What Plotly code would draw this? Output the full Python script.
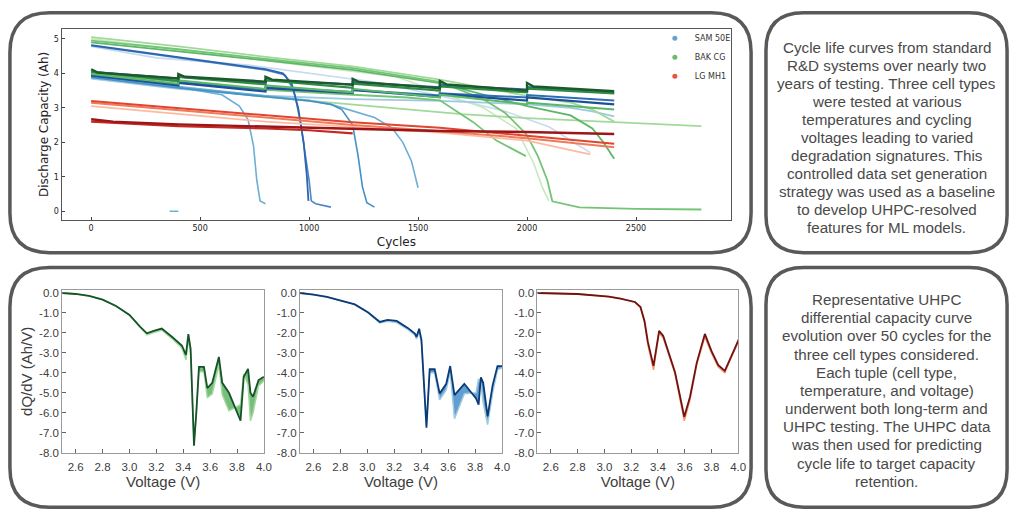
import plotly.graph_objects as go

# ---------------- data: cycle-life curves (cycle, discharge capacity Ah) ----------------
# SAM 50E
sam1_cyc = [0, 200, 400, 600, 800, 880, 920, 950, 975, 990, 997]
sam1_cap = [4.82, 4.65, 4.47, 4.30, 4.12, 4.00, 3.70, 3.00, 2.00, 1.00, 0.30]
sam2_cyc = [0, 400, 800, 890, 930, 960, 985, 1000, 1010, 1030, 1100]
sam2_cap = [4.80, 4.45, 4.10, 3.95, 3.50, 2.60, 1.60, 0.90, 0.30, 0.22, 0.12]
sam3_cyc = [0, 200, 400, 600, 680, 720, 745, 760, 775, 800]
sam3_cap = [3.90, 3.75, 3.60, 3.38, 3.05, 2.65, 1.90, 0.90, 0.30, 0.22]
sam4_cyc = [0, 400, 800, 1000, 1100, 1150, 1200, 1225, 1245, 1265, 1300]
sam4_cap = [3.88, 3.58, 3.32, 3.20, 3.10, 2.95, 2.50, 1.60, 0.70, 0.25, 0.12]
sam5_cyc = [0, 400, 800, 1000, 1100, 1200, 1300, 1380, 1430, 1470, 1500]
sam5_cap = [3.92, 3.62, 3.35, 3.22, 3.10, 2.92, 2.72, 2.42, 2.00, 1.45, 0.68]
sam6_cyc = [0, 400, 400, 800, 800, 1200, 1200, 1600, 1600, 2000, 2000, 2400]
sam6_cap = [3.95, 3.65, 3.72, 3.47, 3.57, 3.43, 3.52, 3.31, 3.40, 3.21, 3.30, 3.10]
sam7_cyc = [0, 400, 400, 800, 800, 1200, 1200, 1600, 1600, 2000, 2000, 2400]
sam7_cap = [3.92, 3.68, 3.74, 3.53, 3.60, 3.46, 3.52, 3.36, 3.42, 3.30, 3.37, 3.21]
sam8_cyc = [0, 400, 400, 800, 800, 1200, 1200, 1600, 1600, 2000, 2000, 2400]
sam8_cap = [4.05, 3.85, 3.90, 3.72, 3.80, 3.68, 3.75, 3.60, 3.66, 3.53, 3.60, 3.43]
sam9_cyc = [0, 400, 800, 1200, 1600, 2000, 2200, 2300, 2400]
sam9_cap = [3.85, 3.55, 3.35, 3.25, 3.20, 3.10, 3.00, 2.90, 2.75]
sam10_cyc = [0, 300, 720, 1000, 1300, 1600, 1900, 2100, 2290]
sam10_cap = [4.78, 4.45, 4.24, 4.00, 3.75, 3.35, 2.90, 2.45, 1.70]
sam11_cyc = [360, 400]
sam11_cap = [0.0, 0.0]

# BAK CG
bak1_cyc = [0, 400, 800, 1200, 1600, 1800, 1900, 1995, 2050, 2093, 2116, 2240, 2500, 2800]
bak1_cap = [4.95, 4.70, 4.42, 4.15, 3.75, 3.25, 2.85, 2.25, 1.60, 0.90, 0.29, 0.11, 0.07, 0.05]
bak2_cyc = [0, 400, 800, 1200, 1600, 2000, 2200, 2300, 2350, 2400]
bak2_cap = [4.90, 4.65, 4.38, 4.10, 3.72, 3.05, 2.78, 2.40, 2.00, 1.52]
bak3_cyc = [0, 400, 800, 1200, 1600, 2000, 2200, 2300, 2400]
bak3_cap = [5.05, 4.78, 4.48, 4.20, 3.82, 3.35, 3.15, 2.95, 2.60]
bak4_cyc = [0, 400, 800, 1200, 1450, 1600, 1750, 1860, 1995]
bak4_cap = [4.00, 3.75, 3.52, 3.38, 3.30, 3.22, 2.60, 2.05, 1.60]
bak5_cyc = [0, 400, 800, 1100, 1400, 1700, 2000, 2400, 2800]
bak5_cap = [3.92, 3.60, 3.32, 3.15, 2.97, 2.82, 2.70, 2.58, 2.47]
bak6_cyc = [0, 800, 1400, 1800, 1950, 2030, 2070, 2100]
bak6_cap = [5.00, 4.38, 3.90, 3.00, 2.40, 1.40, 0.70, 0.30]
bak7_cyc = [0, 30, 400, 400, 430, 800, 800, 830, 1200, 1200, 1230, 1600, 1600, 1630, 2000, 2000, 2030, 2400]
bak7_cap = [4.12, 4.02, 3.85, 3.98, 3.90, 3.76, 3.90, 3.82, 3.67, 3.84, 3.75, 3.57, 3.78, 3.68, 3.50, 3.72, 3.62, 3.48]
bak8_cyc = [0, 400, 400, 800, 800, 1200, 1200, 1600, 1600, 2000, 2000, 2400]
bak8_cap = [4.05, 3.78, 3.90, 3.68, 3.80, 3.58, 3.70, 3.50, 3.62, 3.45, 3.56, 3.42]
bak9_cyc = [0, 400, 400, 800, 800, 1200, 1200, 1600, 1600, 2000, 2000, 2400]
bak9_cap = [3.98, 3.70, 3.80, 3.55, 3.65, 3.45, 3.55, 3.30, 3.38, 3.10, 3.15, 2.95]

# LG MH1
lg1_cyc = [0, 100, 400, 800, 1200, 1600, 2000, 2400]
lg1_cap = [2.67, 2.60, 2.52, 2.45, 2.38, 2.33, 2.30, 2.24]
lg2_cyc = [0, 400, 800, 1000, 1200]
lg2_cap = [2.60, 2.47, 2.40, 2.35, 2.26]
lg3_cyc = [0, 400, 800, 1200, 1600, 2000, 2400]
lg3_cap = [3.20, 3.00, 2.80, 2.58, 2.42, 2.20, 1.96]
lg4_cyc = [0, 400, 800, 1200, 1600, 2000, 2400]
lg4_cap = [3.15, 2.93, 2.72, 2.50, 2.32, 2.12, 1.86]
lg5_cyc = [0, 400, 800, 1200, 1600, 2000, 2290]
lg5_cap = [3.05, 2.83, 2.60, 2.45, 2.28, 2.05, 1.65]

cell_names = ["SAM 50E", "BAK CG", "LG MH1"]
cell_colors = ["#6a9fd0", "#6cb86c", "#e8553a"]

x_ticks_top = [0, 500, 1000, 1500, 2000, 2500]
y_ticks_top = [0, 1, 2, 3, 4, 5]

# ---------------- data: dQ/dV curves (V, Ah/V), first (light) and last (dark) cycle ----------------
bak_v = [2.50, 2.60, 2.70, 2.80, 2.90, 3.00, 3.08, 3.13, 3.18, 3.24, 3.32, 3.39, 3.42, 3.438, 3.455,
         3.48, 3.497, 3.517, 3.554, 3.579, 3.616, 3.628, 3.665, 3.69, 3.74, 3.826, 3.85, 3.882, 3.90,
         3.919, 3.96, 4.00]
bak_dark = [0.0, -0.05, -0.15, -0.33, -0.65, -1.10, -1.70, -2.02, -1.90, -1.78, -2.22, -2.63, -3.10, -2.06,
            -2.80, -7.65, -6.00, -3.70, -3.70, -4.77, -4.50, -4.20, -3.20, -4.50, -5.00, -6.40, -4.20, -3.80,
            -5.00, -5.20, -4.36, -4.20]
bak_light = [0.0, -0.05, -0.15, -0.33, -0.65, -1.10, -1.70, -2.10, -1.98, -1.85, -2.30, -2.75, -3.35, -2.30,
             -3.00, -7.40, -6.10, -3.95, -3.95, -5.25, -5.05, -4.70, -3.60, -5.10, -5.90, -5.60, -4.05, -4.60,
             -6.40, -6.00, -4.65, -4.40]

sam_v = [2.50, 2.60, 2.70, 2.80, 2.907, 3.007, 3.093, 3.15, 3.218, 3.30, 3.353, 3.365, 3.385, 3.402, 3.439,
         3.463, 3.50, 3.537, 3.586, 3.615, 3.647, 3.72, 3.807, 3.826, 3.843, 3.86, 3.893, 3.93, 3.966, 4.00]
sam_dark = [0.0, -0.08, -0.20, -0.37, -0.57, -0.98, -1.45, -1.35, -1.40, -1.75, -2.03, -2.20, -1.79, -2.36,
            -6.75, -3.82, -3.82, -5.04, -4.55, -3.66, -5.12, -4.55, -5.28, -5.60, -4.23, -4.50, -6.18, -4.63,
            -3.66, -3.66]
sam_light = [0.0, -0.08, -0.20, -0.37, -0.57, -1.00, -1.50, -1.42, -1.48, -1.82, -2.10, -2.30, -1.95, -2.50,
             -6.50, -4.00, -4.00, -5.35, -4.85, -3.95, -6.30, -5.05, -5.00, -4.30, -4.50, -5.50, -6.60, -5.00,
             -3.85, -3.75]

lg_v = [2.50, 2.80, 3.032, 3.12, 3.229, 3.27, 3.30, 3.325, 3.367, 3.385, 3.409, 3.44, 3.47, 3.528, 3.56,
        3.597, 3.64, 3.69, 3.751, 3.80, 3.85, 3.90, 3.95, 4.006]
lg_dark = [0.0, -0.05, -0.18, -0.28, -0.45, -0.70, -1.40, -2.45, -3.65, -2.90, -1.90, -2.15, -2.80, -3.97,
           -5.00, -6.20, -5.20, -3.50, -2.05, -2.90, -3.60, -3.90, -3.15, -2.30]
lg_light = [0.0, -0.05, -0.18, -0.28, -0.47, -0.75, -1.50, -2.60, -3.85, -3.05, -2.00, -2.25, -2.90, -4.05,
            -5.15, -6.40, -5.35, -3.60, -2.20, -3.00, -3.70, -4.00, -3.20, -2.40]

v_ticks = [2.6, 2.8, 3.0, 3.2, 3.4, 3.6, 3.8, 4.0]
v_ticktext = ["2.6", "2.8", "3.0", "3.2", "3.4", "3.6", "3.8", "4.0"]
dq_ticks = [0, -1, -2, -3, -4, -5, -6, -7, -8]
dq_ticktext = ["0.0", "-1.0", "-2.0", "-3.0", "-4.0", "-5.0", "-6.0", "-7.0", "-8.0"]

text_top = [
    "Cycle life curves from standard",
    "R&D systems over nearly two",
    "years of testing. Three cell types",
    "were tested at various",
    "temperatures and cycling",
    "voltages leading to varied",
    "degradation signatures. This",
    "controlled data set generation",
    "strategy was used as a baseline",
    "to develop UHPC-resolved",
    "features for ML models.",
]
text_bottom = [
    "Representative UHPC",
    "differential capacity curve",
    "evolution over 50 cycles for the",
    "three cell types considered.",
    "Each tuple (cell type,",
    "temperature, and voltage)",
    "underwent both long-term and",
    "UHPC testing. The UHPC data",
    "was then used for predicting",
    "cycle life to target capacity",
    "retention.",
]

# ---------------- figure ----------------
W, H = 1024, 525


def px(x):
    return x / W


def py(y):
    return 1 - y / H


fig = go.Figure()

top_series = [
    (sam10_cyc, sam10_cap, "#c6dbef", 1.6),
    (bak6_cyc, bak6_cap, "#c7e9c0", 1.6),
    (sam9_cyc, sam9_cap, "#9ecae1", 1.8),
    (bak5_cyc, bak5_cap, "#a1d99b", 1.8),
    (bak3_cyc, bak3_cap, "#a1d99b", 1.8),
    (bak4_cyc, bak4_cap, "#74c476", 1.8),
    (bak2_cyc, bak2_cap, "#5cb868", 1.8),
    (bak1_cyc, bak1_cap, "#74c476", 1.8),
    (sam3_cyc, sam3_cap, "#6baed6", 1.6),
    (sam5_cyc, sam5_cap, "#6baed6", 1.6),
    (sam4_cyc, sam4_cap, "#4292c6", 1.6),
    (sam2_cyc, sam2_cap, "#4a86c5", 1.6),
    (sam1_cyc, sam1_cap, "#2c64ad", 1.8),
    (sam11_cyc, sam11_cap, "#6baed6", 1.6),
    (sam7_cyc, sam7_cap, "#2c6db4", 2.0),
    (sam6_cyc, sam6_cap, "#1f4f99", 2.2),
    (bak9_cyc, bak9_cap, "#5cb868", 2.0),
    (sam8_cyc, sam8_cap, "#2b63ad", 2.0),
    (bak8_cyc, bak8_cap, "#2f8a45", 2.2),
    (bak7_cyc, bak7_cap, "#1a5a2c", 2.4),
    (lg5_cyc, lg5_cap, "#fcbba1", 1.8),
    (lg4_cyc, lg4_cap, "#f07a5a", 2.0),
    (lg3_cyc, lg3_cap, "#e0452f", 2.0),
    (lg2_cyc, lg2_cap, "#c4281f", 2.2),
    (lg1_cyc, lg1_cap, "#9c1518", 2.4),
]
for xs, ys, col, w in top_series:
    fig.add_trace(go.Scatter(x=xs, y=ys, mode="lines", line=dict(color=col, width=w),
                             showlegend=False, hoverinfo="skip", xaxis="x", yaxis="y"))

for name, col in zip(cell_names, cell_colors):
    fig.add_trace(go.Scatter(x=[None], y=[None], mode="markers", name=name,
                             marker=dict(color=col, size=5), xaxis="x", yaxis="y"))

dq_sets = [
    ("x2", "y2", bak_v, bak_light, bak_dark, "#a1d99b", "rgba(95,178,100,0.85)", "#17532a"),
    ("x3", "y3", sam_v, sam_light, sam_dark, "#9ecae1", "rgba(70,140,200,0.85)", "#0b3a78"),
    ("x4", "y4", lg_v, lg_light, lg_dark, "#fc9272", "rgba(235,90,60,0.9)", "#6e1410"),
]
for xa, ya, v, light, dark, lcol, fcol, dcol in dq_sets:
    fig.add_trace(go.Scatter(x=v, y=light, mode="lines", line=dict(color=lcol, width=1.5),
                             showlegend=False, hoverinfo="skip", xaxis=xa, yaxis=ya))
    fig.add_trace(go.Scatter(x=v, y=dark, mode="lines", line=dict(color=dcol, width=1.8),
                             fill="tonexty", fillcolor=fcol,
                             showlegend=False, hoverinfo="skip", xaxis=xa, yaxis=ya))

# rounded boxes
def rrect(x0, y0, x1, y1, r):
    pts = [
        f"M {px(x0 + r)},{py(y0)}", f"L {px(x1 - r)},{py(y0)}",
        f"Q {px(x1)},{py(y0)} {px(x1)},{py(y0 + r)}", f"L {px(x1)},{py(y1 - r)}",
        f"Q {px(x1)},{py(y1)} {px(x1 - r)},{py(y1)}", f"L {px(x0 + r)},{py(y1)}",
        f"Q {px(x0)},{py(y1)} {px(x0)},{py(y1 - r)}", f"L {px(x0)},{py(y0 + r)}",
        f"Q {px(x0)},{py(y0)} {px(x0 + r)},{py(y0)}", "Z",
    ]
    return " ".join(pts)


shapes = []
for box in [(10, 10, 757, 254, 40), (772, 10, 1015, 254, 38),
            (10, 269, 757, 513, 40), (772, 269, 1015, 513, 38)]:
    shapes.append(dict(type="path", path=rrect(*box), xref="paper", yref="paper",
                       line=dict(color="#595959", width=3.5), layer="below"))

annotations = []
tfont = dict(family="Liberation Sans, Arial, sans-serif", size=15.2, color="#4a4a4a")
for i, line in enumerate(text_top):
    annotations.append(dict(x=px(893.5), y=py(45 + i * 18.33), xref="paper", yref="paper",
                            text=line, showarrow=False, font=tfont, xanchor="center", yanchor="middle"))
for i, line in enumerate(text_bottom):
    annotations.append(dict(x=px(893.5), y=py(301.7 + i * 18.5), xref="paper", yref="paper",
                            text=line, showarrow=False, font=tfont, xanchor="center", yanchor="middle"))

top_font = "DejaVu Sans, sans-serif"
bot_font = "Liberation Sans, Arial, sans-serif"

fig.update_layout(
    width=W, height=H, margin=dict(l=0, r=0, t=0, b=0),
    paper_bgcolor="white", plot_bgcolor="white",
    shapes=shapes, annotations=annotations,
    showlegend=True,
    legend=dict(x=px(660), y=py(21), xanchor="left", yanchor="top", traceorder="normal",
                font=dict(family=top_font, size=8, color="#333"),
                bgcolor="rgba(0,0,0,0)", borderwidth=0, tracegroupgap=0),
    xaxis=dict(domain=[px(62), px(737)], range=[-136, 2937], anchor="y",
               tickvals=x_ticks_top, ticks="inside", ticklen=3, tickcolor="#444",
               showline=True, mirror=True, linecolor="#555", linewidth=1.3,
               showgrid=False, zeroline=False,
               tickfont=dict(family=top_font, size=8, color="#222"),
               title=dict(text="Cycles", font=dict(family=top_font, size=12, color="#222"), standoff=5)),
    yaxis=dict(domain=[py(221), py(26)], range=[-0.26, 5.3], anchor="x",
               tickvals=y_ticks_top, ticks="inside", ticklen=3, tickcolor="#444",
               showline=True, mirror=True, linecolor="#555", linewidth=1.3,
               showgrid=False, zeroline=False,
               tickfont=dict(family=top_font, size=8, color="#222"),
               title=dict(text="Discharge Capacity (Ah)", font=dict(family=top_font, size=12, color="#222"),
                          standoff=2)),
)

bot_domains = [(62.7, 266), (302.3, 506), (541.7, 744)]
for k, (x0, x1) in enumerate(bot_domains):
    xi, yi = k + 2, k + 2
    xa = dict(domain=[px(x0), px(x1)], range=[2.5, 4.0], anchor=f"y{yi}",
              tickvals=v_ticks, ticktext=v_ticktext, ticks="inside", ticklen=4, tickcolor="#666",
              ticklabelstandoff=4,
              showline=True, mirror=True, linecolor="#9a9a9a", linewidth=1,
              showgrid=False, zeroline=False,
              tickfont=dict(family=bot_font, size=11.5, color="#404040"),
              title=dict(text="Voltage (V)", font=dict(family=bot_font, size=15, color="#404040"), standoff=3))
    ya = dict(domain=[py(457.5), py(292)], range=[-8.0, 0.15], anchor=f"x{xi}",
              tickvals=dq_ticks, ticktext=dq_ticktext, ticks="inside", ticklen=4, tickcolor="#666",
              showline=True, mirror=True, linecolor="#9a9a9a", linewidth=1,
              showgrid=False, zeroline=False,
              tickfont=dict(family=bot_font, size=11.5, color="#404040"))
    if k == 0:
        ya["title"] = dict(text="dQ/dV (Ah/V)", font=dict(family=bot_font, size=15, color="#404040"),
                           standoff=2)
    fig.layout[f"xaxis{xi}"] = xa
    fig.layout[f"yaxis{yi}"] = ya

fig.write_html(
    "out.html",
    config={"displayModeBar": False},
    post_script="document.body.style.margin='0px';document.body.style.overflow='hidden';",
)
